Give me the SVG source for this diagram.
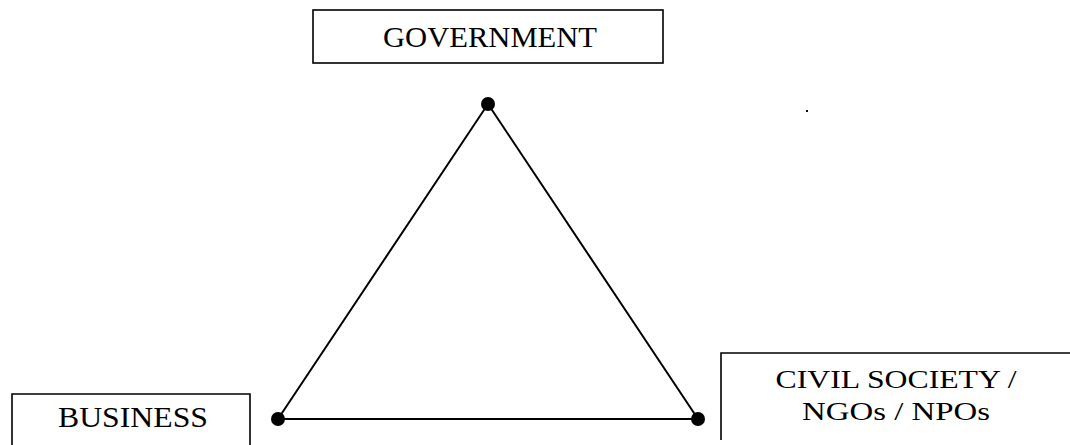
<svg xmlns="http://www.w3.org/2000/svg" width="1070" height="445" viewBox="0 0 1070 445">
<style>
.box{fill:none;stroke:#000;stroke-width:1.6}
.lbl{font-family:"Liberation Serif","Times New Roman",serif;fill:#000;text-anchor:middle}
.edge{stroke:#000;stroke-width:2;fill:none}
.dot{fill:#000}
</style>
<rect width="1070" height="445" fill="#fff"/>
<g id="connectors">
<line class="edge" x1="488" y1="104" x2="278" y2="419"/>
<line class="edge" x1="488" y1="104" x2="698" y2="419"/>
<line class="edge" x1="278" y1="419" x2="698" y2="419"/>
</g>
<g id="government">
<rect class="box" x="313" y="10" width="350" height="53"/>
<text class="lbl" x="490" y="47" font-size="30" textLength="214" lengthAdjust="spacingAndGlyphs">GOVERNMENT</text>
</g>
<g id="business">
<path class="box" d="M12,445 V394 H250 V445"/>
<text class="lbl" x="133" y="427" font-size="29" textLength="150" lengthAdjust="spacingAndGlyphs">BUSINESS</text>
</g>
<g id="civil-society">
<path class="box" d="M1070,353 H721 V440"/>
<text class="lbl" x="896" y="388" font-size="26" textLength="241" lengthAdjust="spacingAndGlyphs">CIVIL SOCIETY /</text>
<text class="lbl" x="896" y="420" font-size="26" textLength="188" lengthAdjust="spacingAndGlyphs">NGOs / NPOs</text>
</g>
<g id="vertex-top"><circle class="dot" cx="488" cy="104" r="7"/></g>
<g id="vertex-left"><circle class="dot" cx="278" cy="419" r="7"/></g>
<g id="vertex-right"><circle class="dot" cx="698" cy="419" r="7"/></g>
<rect x="806" y="110" width="2" height="2" fill="#000"/>
</svg>
